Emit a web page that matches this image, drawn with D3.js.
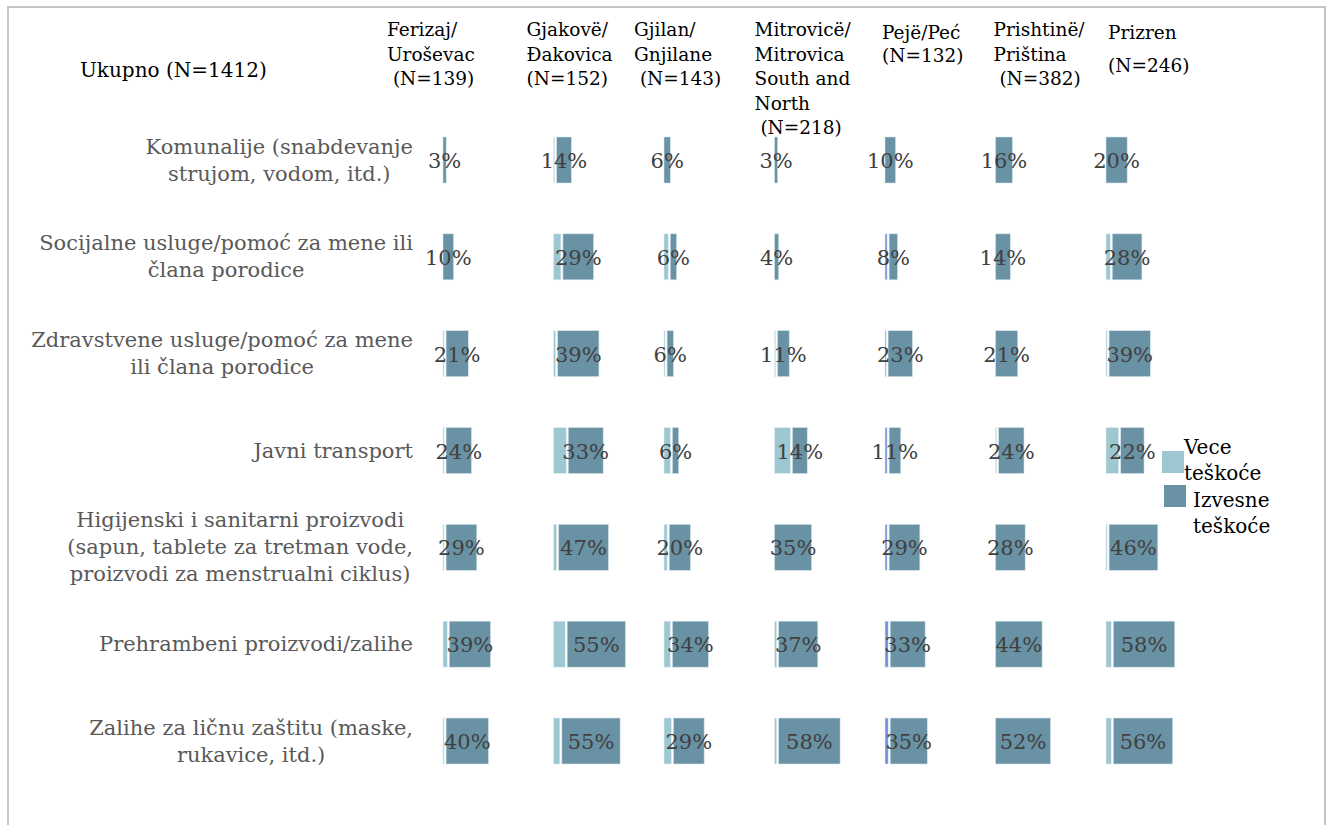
<!DOCTYPE html>
<html>
<head>
<meta charset="utf-8">
<script src="https://cdn.jsdelivr.net/npm/d3@7"></script>
<style>
body { margin: 0; background: #fff; }
svg { display: block; }
text { font-family: Georgia, "DejaVu Serif", serif; }
</style>
</head>
<body>
<svg id="chart"></svg>
<script>
const WIDTH = 1326;
const HEIGHT = 825;

const totalLabel = "Ukupno (N=1412)";

const regions = ["Ferizaj", "Gjakovë", "Gjilan", "Mitrovicë", "Pejë", "Prishtinë", "Prizren"];

const headerLines = [
    ["Ferizaj/", "Uroševac", " (N=139)"],
    ["Gjakovë/", "Đakovica", "(N=152)"],
    ["Gjilan/", "Gnjilane", " (N=143)"],
    ["Mitrovicë/", "Mitrovica", "South and", "North", " (N=218)"],
    ["Pejë/Peć", "(N=132)"],
    ["Prishtinë/", "Priština", " (N=382)"],
    ["Prizren", "(N=246)"]
];

const categories = [
    ["Komunalije (snabdevanje", "strujom, vodom, itd.)"],
    ["Socijalne usluge/pomoć za mene ili", "člana porodice"],
    ["Zdravstvene usluge/pomoć za mene", "ili člana porodice"],
    ["Javni transport"],
    ["Higijenski i sanitarni proizvodi", "(sapun, tablete za tretman vode,", "proizvodi za menstrualni ciklus)"],
    ["Prehrambeni proizvodi/zalihe"],
    ["Zalihe za ličnu zaštitu (maske,", "rukavice, itd.)"]
];

const seriesNames = [["Vece", "teškoće"], ["Izvesne", "teškoće"]];

// Vece teškoće, one array per region (rows in category order)
const vece = [
    [0, 0, 1, 1, 1, 4, 1],
    [1, 7, 2, 12, 3, 11, 6],
    [0, 4, 1, 6, 3, 6, 7],
    [0, 0, 1, 15, 0, 2, 2],
    [0, 2, 1, 2, 2, 3, 3],
    [0, 0, 0, 1, 0, 0, 0],
    [0, 4, 1, 12, 1, 5, 5]
];

// Izvesne teškoće (the printed percentages)
const izvesne = [
    [3, 10, 21, 24, 29, 39, 40],
    [14, 29, 39, 33, 47, 55, 55],
    [6, 6, 6, 6, 20, 34, 29],
    [3, 4, 11, 14, 35, 37, 58],
    [10, 8, 23, 11, 29, 33, 35],
    [16, 14, 21, 24, 28, 44, 52],
    [20, 28, 39, 22, 46, 58, 56]
];

const LIGHT = "#9dc7d1";
const DARK = "#6a92a5";
const BLUE = "#6f8fd9";

// header text boxes: offset from the column start, first baseline, line height
const headerLayout = [
    {dx: -56, y: 36, lh: 24.5},
    {dx: -27, y: 36, lh: 24.5},
    {dx: -30, y: 36, lh: 24.5},
    {dx: -20, y: 36, lh: 24.5},
    {dx: -3, y: 39, lh: 23},
    {dx: -2, y: 36, lh: 24.5},
    {dx: 2, y: 39, lh: 33}
];

document.addEventListener("DOMContentLoaded", function() {
    const svg = d3.select("#chart")
        .attr("width", WIDTH)
        .attr("height", HEIGHT);

    // frame
    svg.append("path")
        .attr("d", `M8,${HEIGHT} V7 H1325 V${HEIGHT}`)
        .attr("fill", "none")
        .attr("stroke", "#c6c6c6")
        .attr("stroke-width", 2);

    const colX = d3.scalePoint()
        .domain(d3.range(regions.length))
        .range([443, 1106]);

    const rowY = d3.scalePoint()
        .domain(d3.range(categories.length))
        .range([160, 741]);

    const x = d3.scaleLinear().domain([0, 100]).range([0, 106]);
    const BAR_H = 46;
    const GAP = 2;

    svg.append("text")
        .attr("x", 80)
        .attr("y", 77)
        .attr("font-size", 20)
        .attr("fill", "#000")
        .text(totalLabel);

    // column headers
    headerLines.forEach((lines, i) => {
        const lay = headerLayout[i];
        const t = svg.append("text")
            .attr("font-size", 18.5)
            .attr("fill", "#000")
            .attr("xml:space", "preserve");
        lines.forEach((ln, j) => {
            t.append("tspan")
                .attr("x", colX(i) + lay.dx)
                .attr("y", lay.y + j * lay.lh)
                .text(ln);
        });
    });

    // row labels, centred in a box whose right edge sits near the bars
    const LABEL_RIGHT = 413;
    categories.forEach((lines, r) => {
        const t = svg.append("text")
            .attr("font-size", 21)
            .attr("fill", "#595959")
            .attr("text-anchor", "middle");
        const y0 = rowY(r) - (lines.length - 1) * 27 / 2;
        lines.forEach((ln, j) => {
            t.append("tspan")
                .attr("x", 0)
                .attr("y", y0 + j * 27)
                .attr("dominant-baseline", "central")
                .text(ln);
        });
        const w = d3.max(t.selectAll("tspan").nodes(), n => n.getComputedTextLength());
        t.selectAll("tspan").attr("x", LABEL_RIGHT - w / 2);
    });

    // bars
    regions.forEach((reg, c) => {
        const x0 = colX(c);
        const rows = d3.range(categories.length).map(r => ({
            r: r,
            v: vece[c][r],
            i: izvesne[c][r]
        }));
        const g = svg.append("g");

        g.selectAll("rect.vece")
            .data(rows.filter(d => d.v > 0))
            .join("rect")
            .attr("class", "vece")
            .attr("x", x0)
            .attr("y", d => rowY(d.r) - BAR_H / 2)
            .attr("width", d => x(d.v))
            .attr("height", BAR_H)
            .attr("fill", reg === "Pejë" ? BLUE : LIGHT)
            .attr("stroke", "#e3eef2")
            .attr("stroke-width", 0.6);

        const darkX = d => x0 + x(d.v) + (d.v > 0 ? GAP : 0);

        g.selectAll("rect.izv")
            .data(rows)
            .join("rect")
            .attr("class", "izv")
            .attr("x", darkX)
            .attr("y", d => rowY(d.r) - BAR_H / 2)
            .attr("width", d => x(d.i))
            .attr("height", BAR_H)
            .attr("fill", DARK)
            .attr("stroke", "#d5e5eb")
            .attr("stroke-width", 0.6);

        g.selectAll("text")
            .data(rows)
            .join("text")
            .attr("x", d => darkX(d) + x(d.i) / 2)
            .attr("y", d => rowY(d.r) + 1)
            .attr("text-anchor", "middle")
            .attr("dominant-baseline", "central")
            .attr("font-size", 21)
            .attr("fill", "#404040")
            .text(d => d.i + "%");
    });

    // legend
    const legend = [
        {color: LIGHT, sx: 1162, sy: 451, tx: 1184, ty: 454},
        {color: DARK, sx: 1164, sy: 485, tx: 1193, ty: 507}
    ];
    legend.forEach((l, k) => {
        svg.append("rect")
            .attr("x", l.sx).attr("y", l.sy)
            .attr("width", 22).attr("height", 22)
            .attr("fill", l.color);
        const t = svg.append("text")
            .attr("font-size", 20)
            .attr("fill", "#000");
        seriesNames[k].forEach((ln, j) => {
            t.append("tspan")
                .attr("x", l.tx)
                .attr("y", l.ty + j * 26)
                .text(ln);
        });
    });
});
</script>
</body>
</html>
